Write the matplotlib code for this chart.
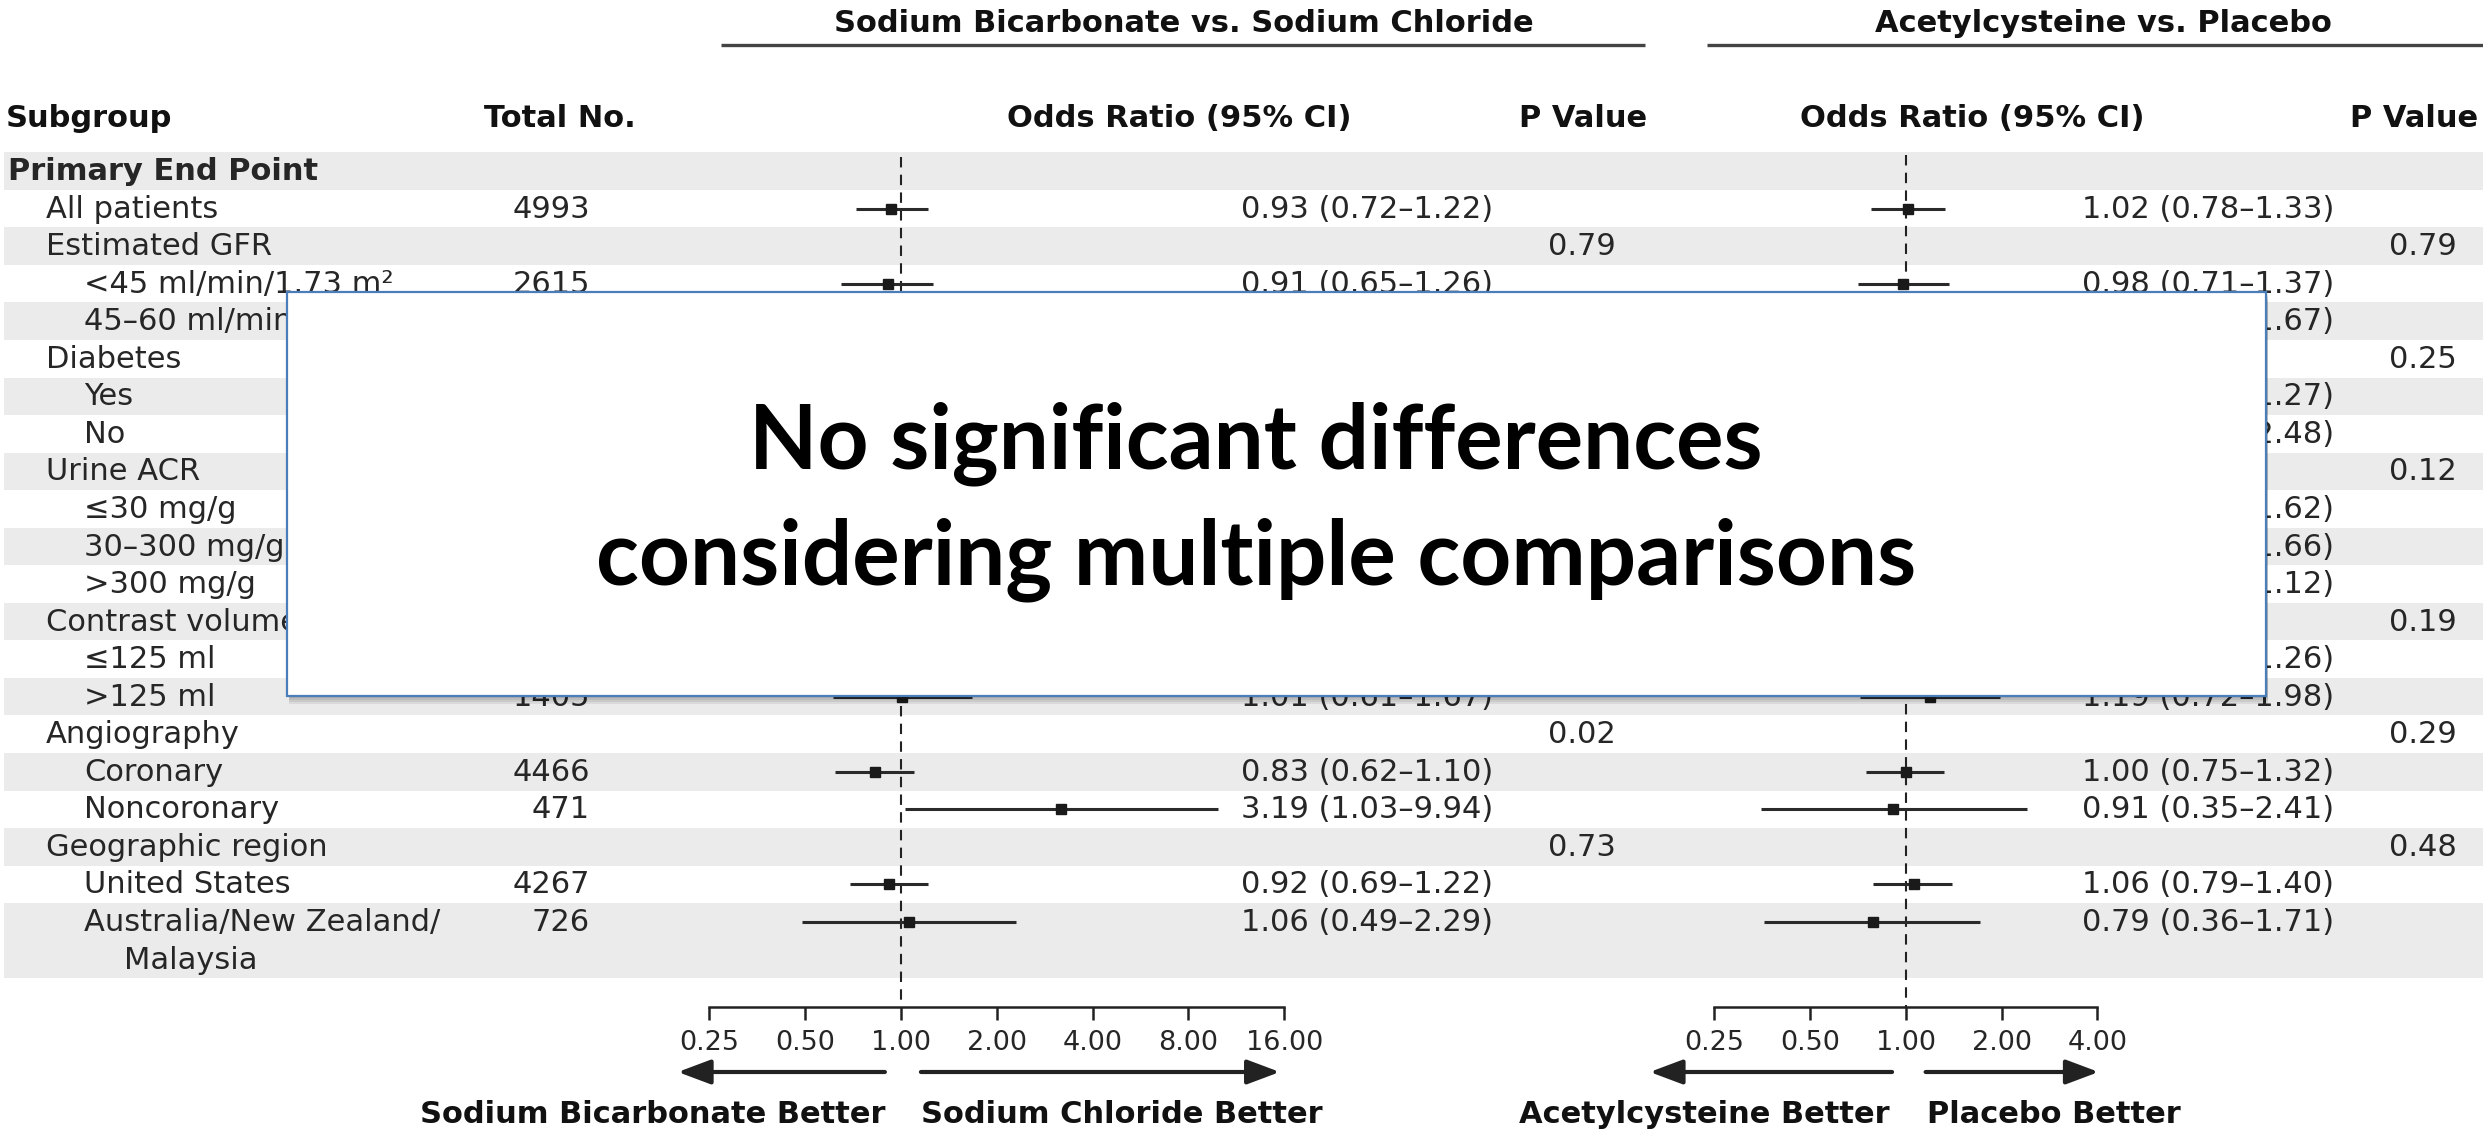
import numpy as np
import matplotlib
matplotlib.use("Agg")
import matplotlib.pyplot as plt
from matplotlib.patches import Rectangle
from matplotlib.ticker import NullLocator

W, H = 2483, 1131

subgroups = ["Primary End Point", "All patients", "Estimated GFR",
             "<45 ml/min/1.73 m²", "45–60 ml/min/1.73 m²", "Diabetes", "Yes", "No",
             "Urine ACR", "≤30 mg/g", "30–300 mg/g", ">300 mg/g",
             "Contrast volume", "≤125 ml", ">125 ml", "Angiography", "Coronary",
             "Noncoronary", "Geographic region", "United States",
             "Australia/New Zealand/\nMalaysia"]
levels = [0, 1, 1, 2, 2, 1, 2, 2, 1, 2, 2, 2, 1, 2, 2, 1, 2, 2, 1, 2, 2]
total_no = ["", "4993", "", "2615", "2378", "", "4042", "951", "", "2171", "1820",
            "851", "", "3588", "1405", "", "4466", "471", "", "4267", "726"]

# sodium bicarbonate vs sodium chloride
bic_or = [None, 0.93, None, 0.91, 0.95, None, 0.91, 1.05, None, 0.86, 0.98, 0.92,
          None, 0.89, 1.01, None, 0.83, 3.19, None, 0.92, 1.06]
bic_lo = [None, 0.72, None, 0.65, 0.63, None, 0.68, 0.55, None, 0.56, 0.64, 0.52,
          None, 0.65, 0.61, None, 0.62, 1.03, None, 0.69, 0.49]
bic_hi = [None, 1.22, None, 1.26, 1.43, None, 1.21, 2.01, None, 1.32, 1.50, 1.63,
          None, 1.22, 1.67, None, 1.10, 9.94, None, 1.22, 2.29]
bic_p = ["", "", "0.79", "", "", "0.63", "", "", "0.89", "", "", "",
         "0.65", "", "", "0.02", "", "", "0.73", "", ""]

# acetylcysteine vs placebo
nac_or = [None, 1.02, None, 0.98, 1.07, None, 0.96, 1.21, None, 1.07, 1.09, 0.66,
          None, 0.93, 1.19, None, 1.00, 0.91, None, 1.06, 0.79]
nac_lo = [None, 0.78, None, 0.71, 0.69, None, 0.72, 0.59, None, 0.70, 0.72, 0.39,
          None, 0.69, 0.72, None, 0.75, 0.35, None, 0.79, 0.36]
nac_hi = [None, 1.33, None, 1.37, 1.67, None, 1.27, 2.48, None, 1.62, 1.66, 1.12,
          None, 1.26, 1.98, None, 1.32, 2.41, None, 1.40, 1.71]
nac_p = ["", "", "0.79", "", "", "0.25", "", "", "0.12", "", "", "",
         "0.19", "", "", "0.29", "", "", "0.48", "", ""]

bic_ticks = [0.25, 0.5, 1, 2, 4, 8, 16]
nac_ticks = [0.25, 0.5, 1, 2, 4]

FS = 22
TICK_FS = 19.5
TXT = "#262626"
HEAD = "#111111"
BAND = "#ebebeb"
ROW0, ROWH = 171, 37.55

plt.rcParams['font.family'] = 'DejaVu Sans'
fig = plt.figure(figsize=(W / 100, H / 100), dpi=100)

# background axes in pixel units: bands and table text
bg = fig.add_axes([0, 0, 1, 1])
bg.set_xlim(0, W)
bg.set_ylim(H, 0)
bg.axis('off')

row_y = ROW0 + ROWH * np.arange(len(subgroups))

for i, y in enumerate(row_y):
    if i % 2 == 0:
        h = ROWH * (1 + subgroups[i].count("\n"))
        bg.add_patch(Rectangle((4, y - ROWH / 2), W, h, color=BAND, lw=0, zorder=0))

# group headers
bg.text(1184, 32, "Sodium Bicarbonate vs. Sodium Chloride", fontsize=FS,
        fontweight='bold', ha='center', va='baseline', color=HEAD)
bg.text(2103, 32, "Acetylcysteine vs. Placebo", fontsize=FS,
        fontweight='bold', ha='center', va='baseline', color=HEAD)
bg.plot([721, 1645], [45, 45], color='#444', lw=2.4, solid_capstyle='butt')
bg.plot([1707, W], [45, 45], color='#444', lw=2.4, solid_capstyle='butt')

# column headers
hb = 127
bg.text(6, hb, "Subgroup", fontsize=FS, fontweight='bold', va='baseline', color=HEAD)
bg.text(484, hb, "Total No.", fontsize=FS, fontweight='bold', va='baseline', color=HEAD)
bg.text(1179, hb, "Odds Ratio (95% CI)", fontsize=FS, fontweight='bold',
        ha='center', va='baseline', color=HEAD)
bg.text(1583, hb, "P Value", fontsize=FS, fontweight='bold', ha='center',
        va='baseline', color=HEAD)
bg.text(1972, hb, "Odds Ratio (95% CI)", fontsize=FS, fontweight='bold',
        ha='center', va='baseline', color=HEAD)
bg.text(2414, hb, "P Value", fontsize=FS, fontweight='bold', ha='center',
        va='baseline', color=HEAD)

table_texts = []
indent = {0: 8, 1: 46, 2: 84}
for i, y in enumerate(row_y):
    base = y + 9
    lines = subgroups[i].split("\n")
    bg.text(indent[levels[i]], base, lines[0], fontsize=FS, va='baseline', color=TXT,
            fontweight='bold' if levels[i] == 0 else 'normal')
    for k, extra in enumerate(lines[1:], start=1):
        bg.text(indent[levels[i]] + 40, base + k * ROWH, extra, fontsize=FS,
                va='baseline', color=TXT)
    if total_no[i]:
        table_texts.append(bg.text(590, base, total_no[i], fontsize=FS, ha='right',
                                   va='baseline', color=TXT))
    if bic_or[i] is not None:
        table_texts.append(bg.text(1493, base,
                                   f"{bic_or[i]:.2f} ({bic_lo[i]:.2f}–{bic_hi[i]:.2f})",
                                   fontsize=FS, ha='right', va='baseline', color=TXT))
    if nac_or[i] is not None:
        bg.text(2334, base, f"{nac_or[i]:.2f} ({nac_lo[i]:.2f}–{nac_hi[i]:.2f})",
                fontsize=FS, ha='right', va='baseline', color=TXT)
    if bic_p[i]:
        table_texts.append(bg.text(1582, base, bic_p[i], fontsize=FS, ha='center',
                                   va='baseline', color=TXT))
    if nac_p[i]:
        bg.text(2423, base, nac_p[i], fontsize=FS, ha='center', va='baseline', color=TXT)

# bottom direction labels
bb = 1123
bg.text(885, bb, "Sodium Bicarbonate Better", fontsize=FS, fontweight='bold',
        ha='right', va='baseline', color=HEAD)
bg.text(921, bb, "Sodium Chloride Better", fontsize=FS, fontweight='bold',
        ha='left', va='baseline', color=HEAD)
bg.text(1890, bb, "Acetylcysteine Better", fontsize=FS, fontweight='bold',
        ha='right', va='baseline', color=HEAD)
bg.text(1927, bb, "Placebo Better", fontsize=FS, fontweight='bold',
        ha='left', va='baseline', color=HEAD)


def forest(x_one, lim, ticks, ors, los, his, top, arrows):
    per2 = 95.8
    x0 = x_one + per2 * np.log2(lim[0])
    x1 = x_one + per2 * np.log2(lim[1])
    ax = fig.add_axes([x0 / W, 0, (x1 - x0) / W, 1])
    ax.set_xscale('log', base=2)
    ax.set_xlim(*lim)
    ax.set_ylim(H, 0)
    ax.patch.set_visible(False)
    for s in ['top', 'left', 'right']:
        ax.spines[s].set_visible(False)
    ax.spines['bottom'].set_position(('data', 1007))
    ax.spines['bottom'].set_bounds(ticks[0], ticks[-1])
    ax.spines['bottom'].set_linewidth(1.8)
    ax.spines['bottom'].set_color('#222')
    ax.set_xticks(ticks)
    ax.set_xticklabels([f"{t:.2f}" for t in ticks])
    ax.xaxis.set_minor_locator(NullLocator())
    ax.tick_params(axis='x', direction='out', length=9.5, width=1.8, pad=7,
                   labelsize=TICK_FS, colors='#222', labelcolor=TXT)
    ax.set_yticks([])

    ax.vlines(1, top, 1007, colors='#222', lw=1.5, linestyles=(0, (5, 3.5)))
    for y, o, lo, hi in zip(row_y, ors, los, his):
        if o is None:
            continue
        ax.hlines(y, lo, hi, colors='#2a2a2a', lw=2.2)
        ax.plot(o, y, 's', color='#1a1a1a', ms=6.5)

    for start, tip in arrows:
        ax.annotate('', xy=(tip, 1072), xytext=(start, 1072), annotation_clip=False,
                    arrowprops=dict(arrowstyle='-|>,head_length=0.8,head_width=0.3',
                                    lw=3, color='#222', mutation_scale=25,
                                    shrinkA=0, shrinkB=0))
    return ax


axl = forest(901, (0.2, 20), bic_ticks, bic_or, bic_lo, bic_hi, 157,
             [(0.89, 0.199), (1.155, 15.5)])
axr = forest(1905.7, (0.15, 5), nac_ticks, nac_or, nac_lo, nac_hi, 155,
             [(0.906, 0.157), (1.155, 4.04)])
axl.set_zorder(1)
axr.set_zorder(1)

# overlay callout box
ov = fig.add_axes([0, 0, 1, 1])
ov.set_xlim(0, W)
ov.set_ylim(H, 0)
ov.axis('off')
ov.set_zorder(3)
bx, by, bw, bh = 287, 292, 1979, 404
for off in [2, 4, 6, 8]:
    ov.add_patch(Rectangle((bx + 2, by + off), bw, bh, color='black', alpha=0.07, lw=0))
ov.add_patch(Rectangle((bx, by), bw, bh, facecolor='white', edgecolor='#4a7ebb', lw=1.6))
ov.text(1256, 468, "No significant differences", fontsize=64, fontweight='bold',
        family=['Lato', 'DejaVu Sans'], ha='center', va='baseline', color='black')
ov.text(1256, 584, "considering multiple comparisons", fontsize=64, fontweight='bold',
        family=['Lato', 'DejaVu Sans'], ha='center', va='baseline', color='black')

# table cells that sit wholly under the callout box are invisible; drop them
fig.canvas.draw()
r = fig.canvas.get_renderer()
box_px = bg.transData.transform([[bx, by + bh], [bx + bw, by]])
for t in table_texts:
    e = t.get_window_extent(r)
    if (e.x0 >= box_px[0][0] and e.x1 <= box_px[1][0]
            and e.y0 >= box_px[0][1] and e.y1 <= box_px[1][1]):
        t.remove()

fig.savefig("out.png", dpi=100)
